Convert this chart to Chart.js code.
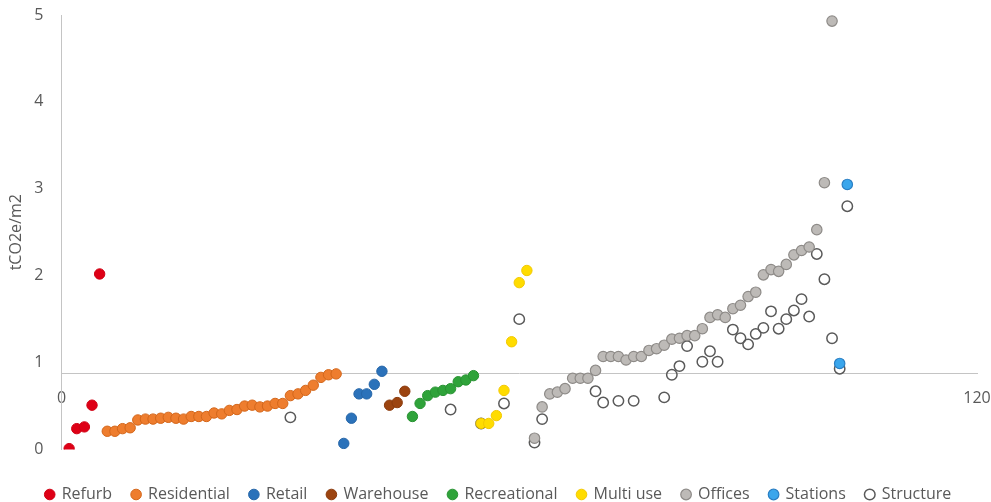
<!DOCTYPE html>
<html>
<head>
<meta charset="utf-8">
<script src="https://cdn.jsdelivr.net/npm/chart.js@4/dist/chart.umd.min.js"></script>
<style>
  html, body { margin: 0; padding: 0; background: #ffffff; }
  #wrap { width: 991px; height: 502px; }
</style>
</head>
<body>
<div id="wrap"><canvas id="c" width="991" height="502"></canvas></div>
<script>
// Embodied carbon per floor area, by project type (project index on x)
const refurbX = [1, 2, 3, 4, 5];
const refurbY = [0.01, 0.24, 0.26, 0.51, 2.02];

const residentialX = [6, 7, 8, 9, 10, 11, 12, 13, 14, 15, 16, 17, 18, 19, 20, 21,
  22, 23, 24, 25, 26, 27, 28, 29, 30, 31, 32, 33, 34, 35, 36];
const residentialY = [0.21, 0.21, 0.24, 0.25, 0.34, 0.35, 0.35, 0.36, 0.37, 0.36, 0.35,
  0.38, 0.38, 0.38, 0.42, 0.41, 0.45, 0.46, 0.50, 0.51, 0.49, 0.50, 0.53, 0.53, 0.62,
  0.64, 0.68, 0.74, 0.83, 0.86, 0.87];

const retailX = [37, 38, 39, 40, 41, 42];
const retailY = [0.07, 0.36, 0.64, 0.64, 0.75, 0.90];

const warehouseX = [43, 44, 45];
const warehouseY = [0.51, 0.54, 0.67];

const recreationalX = [46, 47, 48, 49, 50, 51, 52, 53, 54];
const recreationalY = [0.38, 0.53, 0.62, 0.66, 0.68, 0.70, 0.78, 0.80, 0.85];

const multiUseX = [55, 56, 57, 58, 59, 60, 61];
const multiUseY = [0.30, 0.30, 0.39, 0.68, 1.24, 1.92, 2.06];

const officesX = [62, 63, 64, 65, 66, 67, 68, 69, 70, 71, 72, 73, 74, 75, 76, 77, 78,
  79, 80, 81, 82, 83, 84, 85, 86, 87, 88, 89, 90, 91, 92, 93, 94, 95, 96, 97, 98, 99,
  100, 101];
const officesY = [0.13, 0.49, 0.64, 0.66, 0.70, 0.82, 0.82, 0.82, 0.91, 1.07, 1.07, 1.07,
  1.03, 1.07, 1.07, 1.14, 1.16, 1.20, 1.27, 1.28, 1.31, 1.31, 1.39, 1.52, 1.55, 1.52,
  1.62, 1.66, 1.76, 1.81, 2.01, 2.07, 2.05, 2.13, 2.24, 2.29, 2.33, 2.53, 3.07, 4.93];

const stationsX = [102, 103];
const stationsY = [0.99, 3.05];

const structureX = [30, 51, 55, 58, 60, 62, 63, 70, 71, 73, 75, 79, 80, 81, 82, 84, 85,
  86, 88, 89, 90, 91, 92, 93, 94, 95, 96, 97, 98, 99, 100, 101, 102, 103];
const structureY = [0.37, 0.46, 0.30, 0.53, 1.50, 0.08, 0.35, 0.67, 0.54, 0.56, 0.56,
  0.60, 0.86, 0.96, 1.19, 1.01, 1.13, 1.01, 1.38, 1.28, 1.21, 1.33, 1.40, 1.59, 1.39,
  1.50, 1.60, 1.73, 1.53, 2.25, 1.96, 1.28, 0.93, 2.80];

const xTicks = [0, 120];
const yTicks = [0, 1, 2, 3, 4, 5];
const yTitle = 'tCO2e/m2';

const toPoints = (xs, ys) => xs.map((x, i) => ({ x: x, y: ys[i] }));

function series(label, xs, ys, fill, stroke, width) {
  return {
    label: label,
    data: toPoints(xs, ys),
    backgroundColor: fill,
    borderColor: stroke,
    borderWidth: width,
    pointRadius: 5.2,
    pointHoverRadius: 5.2,
    pointStyle: 'circle'
  };
}

const TEXT = '#595959';
const AXIS = '#C4C4C4';

Chart.defaults.font.family = "'Open Sans', 'Noto Sans', sans-serif";
Chart.defaults.color = TEXT;

// nudges the legend row down towards the bottom edge and centres it under the plot
const legendDrop = {
  id: 'legendDrop',
  afterLayout(chart) {
    const l = chart.legend;
    if (l) { l.top += 17; l.bottom += 17; l.left += 10; l.right += 10; }
  }
};

new Chart(document.getElementById('c'), {
  type: 'scatter',
  data: {
    datasets: [
      series('Refurb', refurbX, refurbY, '#DE0016', '#D00014', 1),
      series('Residential', residentialX, residentialY, '#EE7D2E', '#D3661A', 1),
      series('Retail', retailX, retailY, '#2B72BA', '#2666A8', 1),
      series('Warehouse', warehouseX, warehouseY, '#9C4410', '#8A3A0C', 1),
      series('Recreational', recreationalX, recreationalY, '#2FA33A', '#289232', 1),
      series('Multi use', multiUseX, multiUseY, '#FFDC00', '#F2C800', 1),
      series('Offices', officesX, officesY, '#BDBAB7', '#8E8B88', 1.2),
      series('Stations', stationsX, stationsY, '#3AA6EC', '#2A7FC4', 1.2),
      series('Structure', structureX, structureY, 'rgba(255,255,255,0)', '#5A5A5A', 1.5)
    ]
  },
  options: {
    responsive: false,
    animation: false,
    devicePixelRatio: 1,
    layout: { padding: { left: 0, right: 14, top: 15, bottom: 6.5 } },
    plugins: {
      tooltip: { enabled: false },
      legend: {
        position: 'bottom',
        labels: {
          usePointStyle: true,
          boxWidth: 8,
          boxHeight: 7.5,
          padding: 20,
          color: TEXT,
          font: { size: 16 }
        }
      }
    },
    scales: {
      x: {
        type: 'linear',
        position: { y: 0.875 },
        min: 0,
        max: 120,
        afterBuildTicks: (s) => { s.ticks = xTicks.map(v => ({ value: v })); },
        ticks: { padding: 0, color: TEXT, font: { size: 16 }, maxRotation: 0 },
        grid: { display: false, drawTicks: true, tickLength: 15 },
        border: { display: true, color: AXIS, width: 1 }
      },
      y: {
        type: 'linear',
        position: 'left',
        min: 0,
        max: 5,
        afterBuildTicks: (s) => { s.ticks = yTicks.map(v => ({ value: v })); },
        afterFit: (s) => { s.width = 61.5; },
        ticks: { padding: 3, color: TEXT, font: { size: 16 } },
        grid: { display: false, drawTicks: true, tickLength: 15 },
        border: { display: true, color: AXIS, width: 1 },
        title: {
          display: true,
          text: yTitle,
          color: TEXT,
          font: { size: 16 },
          padding: { top: 7, bottom: 0 }
        }
      }
    }
  },
  plugins: [legendDrop]
});
</script>
</body>
</html>
